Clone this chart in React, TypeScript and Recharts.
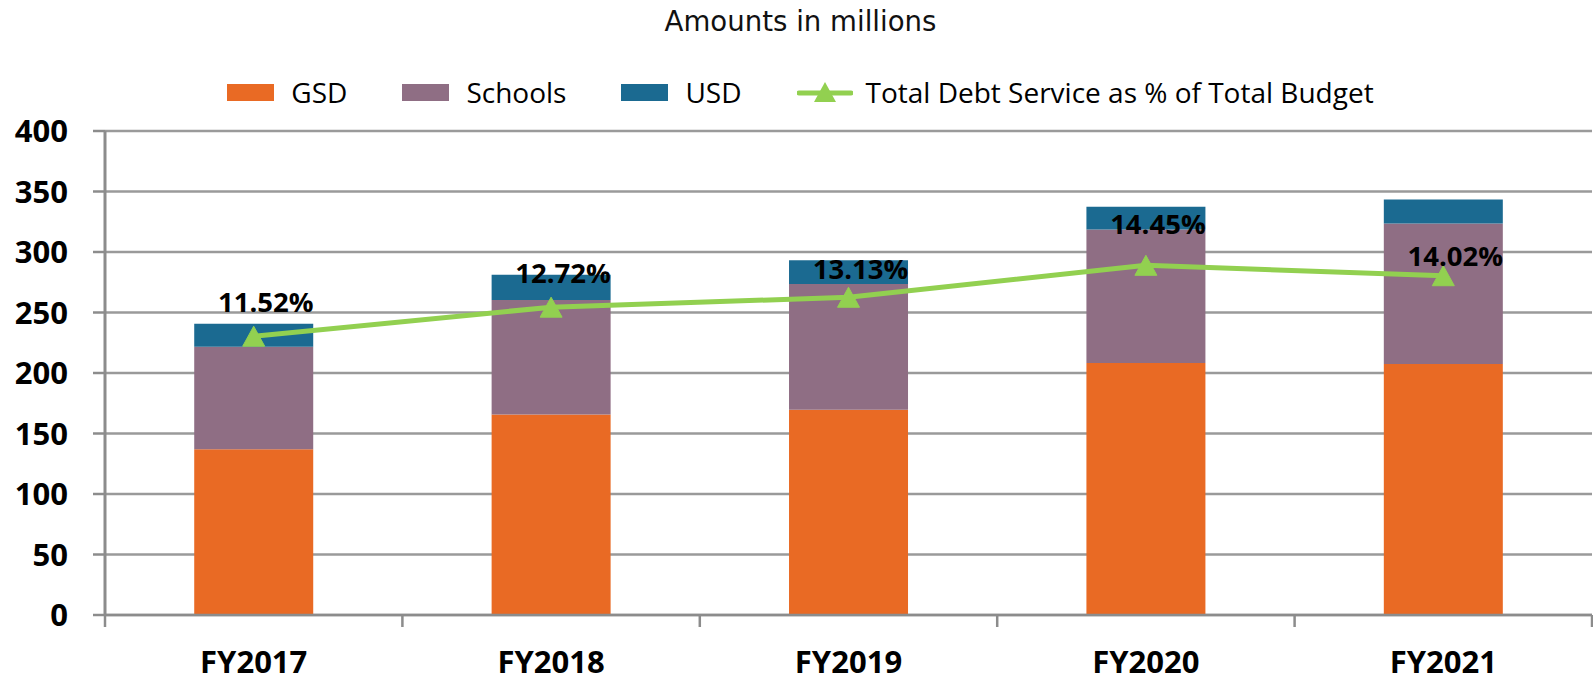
import React from "react";
import {
  Bar,
  CartesianGrid,
  ComposedChart,
  LabelList,
  Legend,
  Line,
  XAxis,
  YAxis,
} from "recharts";

// Debt service by fiscal year (amounts in millions)
const years = ["FY2017", "FY2018", "FY2019", "FY2020", "FY2021"];
const gsd = [137, 165.7, 169.6, 208.2, 207.4];
const schools = [84.6, 94.6, 104, 110.3, 116.1];
const usd = [19, 21, 19.5, 18.8, 19.8];
const debtPct = [11.52, 12.72, 13.13, 14.45, 14.02];
const amountTicks = [0, 50, 100, 150, 200, 250, 300, 350, 400];

const W = 1593;
const H = 681;
const AXIS_W = 105;
const RIGHT = 1;
const HALF_CAT = (W - AXIS_W - RIGHT) / years.length / 2;

const ORANGE = "#E96A24";
const MAUVE = "#8F6E84";
const TEAL = "#1B6A91";
const GREEN = "#92D050";
const GRID = "#9A9A9A";
const AXIS = "#8C8C8C";

// how far each % label sits above its marker (manual placement in the original)
const labelLift = [24, 24, 18, 31, 10];

const data = years.map((y, i) => ({
  year: y,
  gsd: gsd[i],
  schools: schools[i],
  usd: usd[i],
  pct: debtPct[i],
}));

const legendItems = [
  { name: "GSD", color: ORANGE, kind: "rect" },
  { name: "Schools", color: MAUVE, kind: "rect" },
  { name: "USD", color: TEAL, kind: "rect" },
  { name: "Total Debt Service as % of Total Budget", color: GREEN, kind: "line" },
];

const Triangle = (props: any) => {
  const { cx, cy } = props;
  if (cx == null || cy == null) return null;
  return (
    <path
      d={`M${cx},${cy - 10} L${cx + 11},${cy + 10} L${cx - 11},${cy + 10} Z`}
      fill={GREEN}
      stroke={GREEN}
      strokeWidth={1}
      strokeLinejoin="round"
    />
  );
};

const CategoryTick = (props: any) => {
  const { x, y, payload, index } = props;
  return (
    <g>
      <line x1={x - HALF_CAT} x2={x - HALF_CAT} y1={y} y2={y + 12} stroke={AXIS} strokeWidth={2.5} />
      {index === years.length - 1 && (
        <line x1={x + HALF_CAT} x2={x + HALF_CAT} y1={y} y2={y + 12} stroke={AXIS} strokeWidth={2.5} />
      )}
      <text
        x={x}
        y={y + 58}
        textAnchor="middle"
        fontFamily="'Open Sans', sans-serif"
        fontWeight={700}
        fontSize={31}
        fill="#000"
      >
        {payload.value}
      </text>
    </g>
  );
};

const PctLabel = (props: any) => {
  const { x, y, value, index } = props;
  return (
    <text
      x={x + 12}
      y={y - labelLift[index]}
      textAnchor="middle"
      fontFamily="'Open Sans', sans-serif"
      fontWeight={700}
      fontSize={27.5}
      fill="#000"
    >
      {`${Number(value).toFixed(2)}%`}
    </text>
  );
};

const renderLegend = () => (
  <div
    style={{
      display: "flex",
      justifyContent: "center",
      alignItems: "center",
      height: 44,
      paddingLeft: 8,
      fontFamily: "'Open Sans', sans-serif",
      fontSize: 28,
      color: "#000",
    }}
  >
    {legendItems.map((item, i) => (
      <div
        key={item.name}
        style={{ display: "flex", alignItems: "center", marginLeft: i ? 55 : 0 }}
      >
        {item.kind === "rect" ? (
          <span style={{ width: 47, height: 17, background: item.color, display: "inline-block" }} />
        ) : (
          <svg width={56} height={24}>
            <line x1={2} x2={54} y1={13} y2={13} stroke={item.color} strokeWidth={5} strokeLinecap="round" />
            <path d="M28,2 L39,22 L17,22 Z" fill={item.color} />
          </svg>
        )}
        <span style={{ marginLeft: item.kind === "rect" ? 17 : 13, lineHeight: "44px" }}>
          {item.name}
        </span>
      </div>
    ))}
  </div>
);

export default function App() {
  return (
    <div style={{ position: "absolute", left: 0, top: 0, width: W, height: H, background: "#fff" }}>
      <div
        style={{
          position: "absolute",
          top: 4,
          left: 4,
          width: W,
          textAlign: "center",
          fontFamily: "'DejaVu Sans', sans-serif",
          fontSize: 27.6,
          color: "#111",
          lineHeight: "36px",
        }}
      >
        Amounts in millions
      </div>
      <ComposedChart
        width={W}
        height={H}
        data={data}
        margin={{ top: 131, right: RIGHT, left: 0, bottom: 0 }}
        barCategoryGap="30%"
      >
        <CartesianGrid yAxisId="left" vertical={false} stroke={GRID} strokeWidth={2.5} />
        <XAxis
          dataKey="year"
          yAxisId="left"
          height={66}
          tickSize={0}
          tickMargin={0}
          tickLine={false}
          axisLine={{ stroke: AXIS, strokeWidth: 2.5 }}
          tick={<CategoryTick />}
          interval={0}
        />
        <YAxis
          yAxisId="left"
          width={AXIS_W}
          domain={[0, 400]}
          ticks={amountTicks}
          interval={0}
          tickSize={12}
          tickMargin={25}
          tickLine={{ stroke: AXIS, strokeWidth: 2.5 }}
          axisLine={{ stroke: AXIS, strokeWidth: 3 }}
          tick={{
            fontFamily: "'Open Sans', sans-serif",
            fontWeight: 700,
            fontSize: 31,
            fill: "#000",
          }}
        />
        <YAxis yAxisId="right" orientation="right" hide domain={[0, 20]} />
        <Legend
          layout="horizontal"
          verticalAlign="middle"
          align="center"
          wrapperStyle={{ top: 70, left: 0, width: W }}
          content={renderLegend}
        />
        <Bar yAxisId="left" dataKey="gsd" name="GSD" stackId="a" fill={ORANGE} isAnimationActive={false} />
        <Bar yAxisId="left" dataKey="schools" name="Schools" stackId="a" fill={MAUVE} isAnimationActive={false} />
        <Bar yAxisId="left" dataKey="usd" name="USD" stackId="a" fill={TEAL} isAnimationActive={false} />
        <Line
          yAxisId="right"
          dataKey="pct"
          name="Total Debt Service as % of Total Budget"
          stroke={GREEN}
          strokeWidth={5}
          dot={<Triangle />}
          activeDot={false}
          isAnimationActive={false}
        >
          <LabelList dataKey="pct" content={<PctLabel />} />
        </Line>
      </ComposedChart>
    </div>
  );
}
